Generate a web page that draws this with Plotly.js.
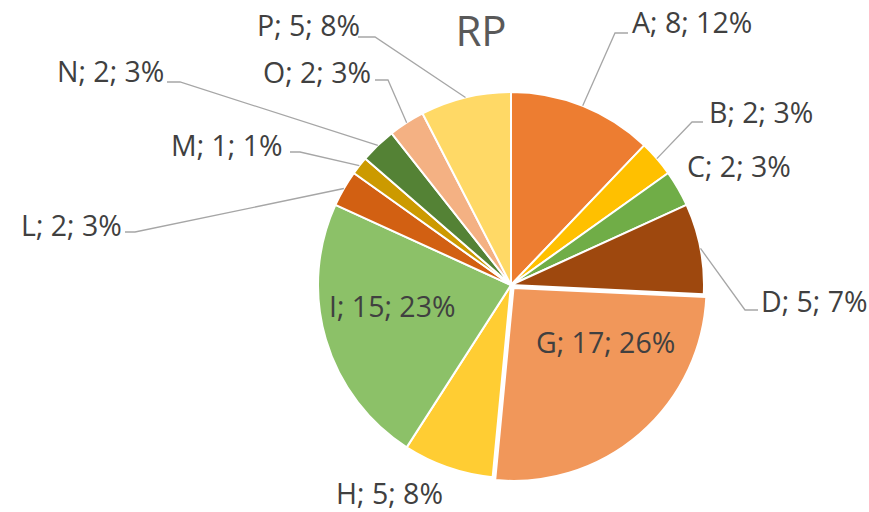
<!DOCTYPE html>
<html>
<head>
<meta charset="utf-8">
<script src="https://cdn.plot.ly/plotly-3.0.1.min.js"></script>
<style>html,body{margin:0;padding:0;background:#fff;}#chart{width:869px;height:512px;}</style>
</head>
<body>
<div id="chart"></div>
<script>
// ---- data ----
const labels = ['A','B','C','D','G','H','I','L','M','N','O','P'];
const values = [8, 2, 2, 5, 17, 5, 15, 2, 1, 2, 2, 5];
const pctLabels = ['12%','3%','3%','7%','26%','8%','23%','3%','1%','3%','3%','8%'];
const titleText = 'RP';

// ---- styles / layout ----
const colors = ['#ED7D31','#FFC000','#70AD47','#9E480E','#F1975A','#FFCD33',
                '#8CC168','#D26012','#CC9A00','#548235','#F4B183','#FFD966'];
const W = 869, H = 512;
const cx = 511, cy = 285, r = 193, gPull = 0.02;
const pulls = labels.map(l => l === 'G' ? gPull : 0);
const maxPull = Math.max(...pulls);
const half = r * (1 + maxPull);
const fontFam = '"Open Sans", "Noto Sans", sans-serif';
const labelFontSize = 28.5;
const textColor = '#404040';

// label placement (pixel positions of label left edge / vertical centre; leader elbow + end)
const place = {
  A: {x: 631, y: 22,  lead: [[615, 33], [628, 33]]},
  B: {x: 708, y: 112, lead: [[692, 122], [703, 122]]},
  C: {x: 686, y: 166, lead: null},
  D: {x: 760, y: 301, lead: [[745, 310], [758, 310]]},
  G: {x: 535, y: 342, lead: null},
  H: {x: 335, y: 493, lead: null},
  I: {x: 328, y: 306, lead: null},
  L: {x: 20,  y: 225, lead: [[135, 232], [125, 232]]},
  M: {x: 170, y: 145, lead: [[300, 152], [290, 152]]},
  N: {x: 56,  y: 71,  lead: [[180, 82], [167, 82]]},
  O: {x: 262, y: 72,  lead: [[388, 80], [375, 80]]},
  P: {x: 256, y: 25,  lead: [[375, 37], [358, 37]]}
};

const px2x = p => p / W;
const py2y = p => 1 - p / H;

const texts = labels.map((l, i) => l + '; ' + values[i] + '; ' + pctLabels[i]);
const total = values.reduce((a, b) => a + b, 0);

const annotations = [];
const shapes = [];
let cum = 0;
labels.forEach((l, i) => {
  const mid = 2 * Math.PI * (cum + values[i] / 2) / total;
  cum += values[i];
  const pl = place[l];
  annotations.push({
    xref: 'paper', yref: 'paper', x: px2x(pl.x), y: py2y(pl.y),
    xanchor: 'left', yanchor: 'middle', showarrow: false, borderpad: 0,
    text: texts[i], font: {family: fontFam, size: labelFontSize, color: textColor}
  });
  if (pl.lead) {
    const tx = cx + r * Math.sin(mid), ty = cy - r * Math.cos(mid);
    const pts = [[tx, ty]].concat(pl.lead);
    const path = pts.map((p, k) => (k ? 'L' : 'M') + px2x(p[0]) + ',' + py2y(p[1])).join(' ');
    shapes.push({type: 'path', xref: 'paper', yref: 'paper', path: path,
      line: {color: '#A6A6A6', width: 1.3}});
  }
});

const trace = {
  type: 'pie',
  labels: labels,
  values: values,
  textinfo: 'none',
  sort: false,
  direction: 'clockwise',
  rotation: 0,
  pull: pulls,
  marker: {colors: colors, line: {color: '#FFFFFF', width: 2}},
  domain: {x: [px2x(cx - half), px2x(cx + half)], y: [py2y(cy + half), py2y(cy - half)]},
  hoverinfo: 'none'
};

const layout = {
  width: W, height: H,
  margin: {l: 0, r: 0, t: 0, b: 0},
  paper_bgcolor: '#FFFFFF',
  showlegend: false,
  title: {text: titleText, x: 481 / W, xanchor: 'center', xref: 'paper',
          y: 1 - 31 / H, yanchor: 'middle', yref: 'paper',
          font: {family: fontFam, size: 42, color: '#595959'}},
  annotations: annotations,
  shapes: shapes
};

Plotly.newPlot('chart', [trace], layout, {staticPlot: true});
</script>
</body>
</html>
